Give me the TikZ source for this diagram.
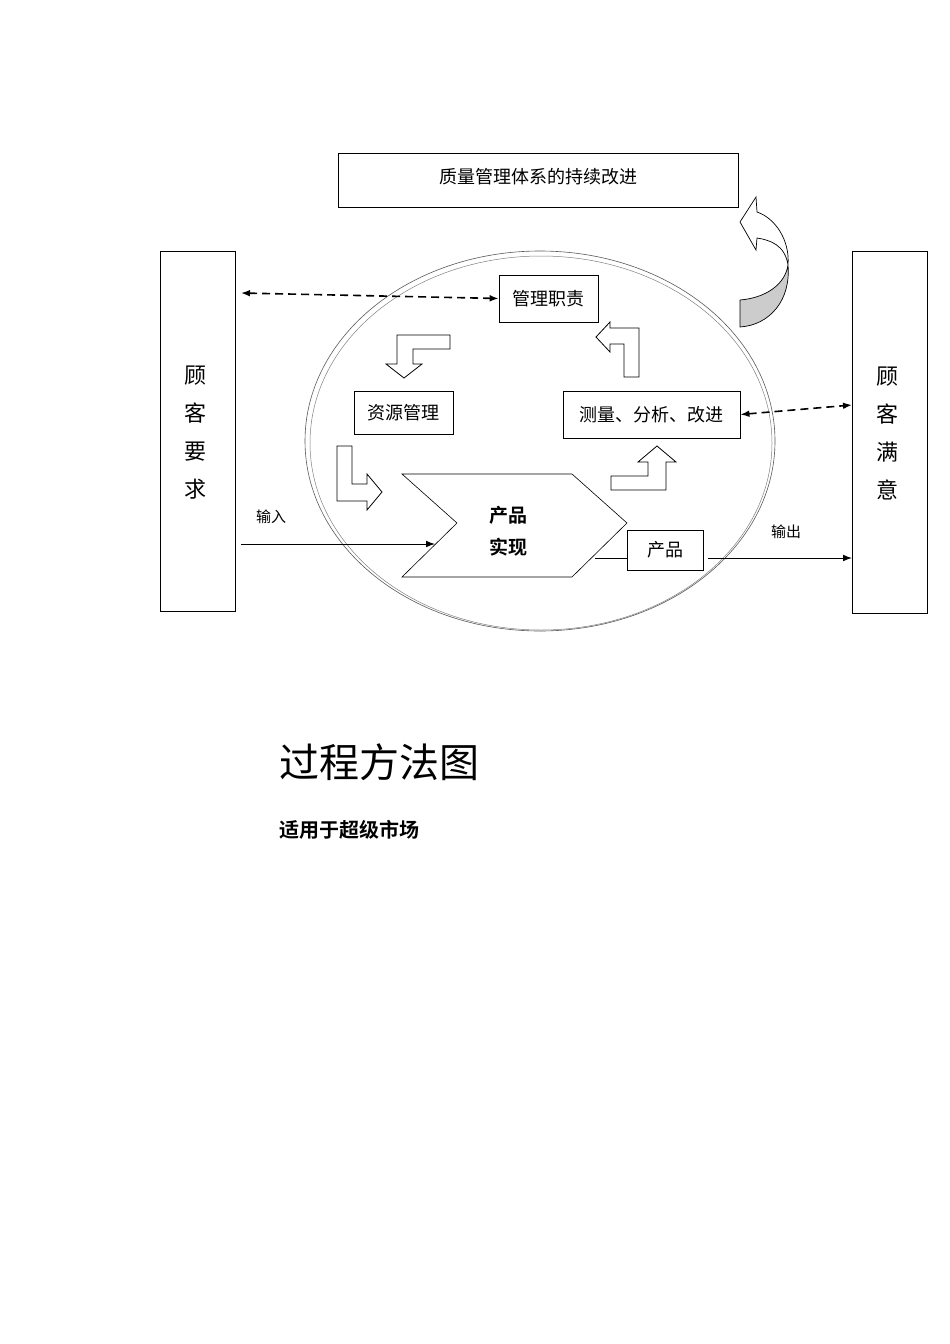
\documentclass[tikz,border=0pt]{standalone}
\usepackage{fontspec}
\newfontfamily\cjk{Noto Sans CJK SC}
\newfontfamily\cjkb{Noto Sans CJK SC Bold}
\usetikzlibrary{arrows.meta}
\begin{document}
\begin{tikzpicture}[x=1pt,y=-1pt,
  box/.style={draw,line width=0.8pt,inner sep=0pt},
  lbl/.style={font=\cjk\fontsize{18}{20}\selectfont},
  bent/.style={draw,fill=white,line width=0.8pt},
  dsh/.style={dashed,dash pattern=on 8pt off 5pt,line width=1.6pt,{Latex[length=9pt]}-{Latex[length=9pt]}},
  solid arrow/.style={line width=1pt,-{Latex[length=9pt]}}]
\useasboundingbox (0,0) rectangle (950,1344);
% ellipse
\draw[gray!70!black,line width=0.6pt] (540,441) ellipse [x radius=235,y radius=190];
\draw[gray,line width=0.5pt] (541,443) ellipse [x radius=231,y radius=187];
% top box
\draw[box] (338,153) rectangle (738,207);
\node[lbl] (top) at (538,177) {质量管理体系的持续改进};
% side boxes
\draw[box] (160,251) rectangle (235,611);
\coordinate (L) at (235,293);
\node[lbl,align=center,font=\cjk\fontsize{22}{38}\selectfont] (req) at (195,433) {顾\\客\\要\\求};
\draw[box] (852,251) rectangle (927,613);
\coordinate (R) at (852,405);
\node[lbl,align=center,font=\cjk\fontsize{22}{38}\selectfont] (sat) at (887,433) {顾\\客\\满\\意};
% inner boxes
\node[box,lbl,minimum width=99pt,minimum height=47pt] (mgmt) at (548.5,298.5) {管理职责};
\node[box,lbl,minimum width=99pt,minimum height=43pt] (res) at (403.5,412.5) {资源管理};
\node[box,lbl,minimum width=177pt,minimum height=47pt] (meas) at (651.5,414.5) {测量、分析、改进};
\draw[dsh] (241,293) -- (mgmt.west);
\draw[dsh] (meas.east) -- (852,405);
% chevron
\draw[fill=white,line width=0.6pt] (402,474) -- (572,474) -- (627,523) -- (572,577) -- (402,577) -- (457,523) -- cycle;
\node[font=\cjkb\fontsize{19}{32}\selectfont,align=center] (real) at (508,531) {产品\\实现};
% product
\node[box,lbl,minimum width=76pt,minimum height=40pt] (prod) at (665,550) {产品};
\draw[line width=0.6pt] (595,558) -- (prod.west |- 0,558);
\draw[solid arrow] (241,544) -- (435,544);
\node[font=\cjk\fontsize{15}{16}\selectfont] (in) at (271,517) {输入};
\draw[solid arrow] (708,558) -- (852,558);
\node[font=\cjk\fontsize{15}{16}\selectfont] (out) at (786,532) {输出};
% bent arrows
\draw[bent] (450,335) -- (397,335) -- (397,364) -- (386,364) -- (404,378) -- (422,364) -- (413,364) -- (413,349) -- (450,349) -- cycle;
\draw[bent] (337,446) -- (352,446) -- (352,484) -- (367,484) -- (367,474) -- (382,492) -- (367,510) -- (367,501) -- (337,501) -- cycle;
\draw[bent] (611,476) -- (648,476) -- (648,462) -- (638,462) -- (657,446) -- (676,462) -- (666,462) -- (666,490) -- (611,490) -- cycle;
\draw[bent] (639,377) -- (624,377) -- (624,344) -- (610,344) -- (610,352) -- (596,337) -- (610,322) -- (610,328) -- (639,328) -- cycle;
% curved arrow
\draw[fill=gray!40,line width=0.7pt] (788,265) .. controls (791,300) and (770,325) .. (740,327) -- (740,300) .. controls (765,298) and (785,285) .. (788,265);
\draw[fill=white,line width=0.7pt] (788,265) .. controls (785,245) and (770,240) .. (757,238) -- (756,250) -- (740,222) -- (756,197) -- (757,212) .. controls (775,218) and (790,240) .. (788,265);
% titles
\node[anchor=west,font=\cjk\fontsize{40}{44}\selectfont] (title) at (276,762) {过程方法图};
\node[anchor=west,font=\cjkb\fontsize{20}{22}\selectfont] (sub) at (276,830) {适用于超级市场};
\end{tikzpicture}
\end{document}
